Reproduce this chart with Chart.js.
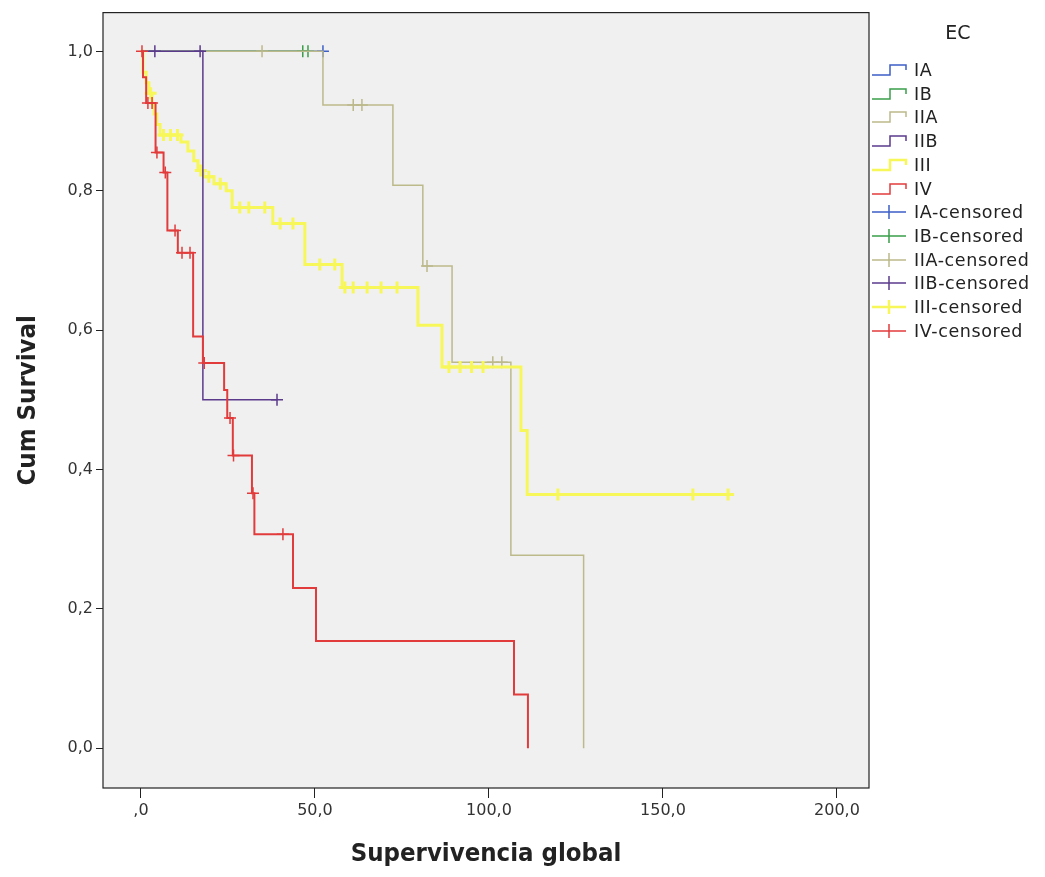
<!DOCTYPE html>
<html>
<head>
<meta charset="utf-8">
<script src="https://cdn.jsdelivr.net/npm/chart.js@4.4.0/dist/chart.umd.min.js"></script>
<style>
  body { margin: 0; background: #fff; }
  #wrap { position: relative; width: 1045px; height: 877px; }
  #legend { position: absolute; left: 0; top: 0; font-family: "DejaVu Sans", sans-serif; color: #222; }
  #legend .ttl { position: absolute; left: 928px; top: 21px; width: 60px; text-align: center; font-size: 19px; }
  #legend .item { position: absolute; left: 871px; height: 22px; white-space: nowrap; font-size: 17.5px; letter-spacing: 0.6px; line-height: 22px; }
  #legend canvas { vertical-align: top; margin-right: 3px; }
</style>
</head>
<body>
<div id="wrap">
  <canvas id="km" width="1045" height="877"></canvas>
  <div id="legend"><div class="ttl">EC</div></div>
</div>
<script>
// tick labels (spanish decimal comma)
const xTickValues = [0, 50, 100, 150, 200];
const xTickLabels = [",0", "50,0", "100,0", "150,0", "200,0"];
const yTickValues = [0, 0.2, 0.4, 0.6, 0.8, 1.0];
const yTickLabels = ["0,0", "0,2", "0,4", "0,6", "0,8", "1,0"];

const groups = ["IA", "IB", "IIA", "IIB", "III", "IV"];

// event times and survival after each step, plus censored times
const iaTimes = [0, 52.3];
const iaSurv = [1, 1];
const iaCens = [52.3];

const ibTimes = [0, 48];
const ibSurv = [1, 1];
const ibCens = [46.5, 48];

const iiaTimes = [0, 52.3, 72.4, 81, 89.4, 106.3, 127.2];
const iiaSurv = [1, 0.923, 0.808, 0.692, 0.554, 0.277, 0];
const iiaCens = [34.8, 61, 63.5, 82.2, 101.1, 103.7];

const iibTimes = [0, 17.8, 39.1];
const iibSurv = [1, 0.5, 0.5];
const iibCens = [4.0, 17.0, 39.1];

const iiiTimes = [0, 0.6, 1.5, 2.3, 3.2, 3.8, 4.6, 5.5, 11.5, 13.5, 15.2, 16.4, 18, 21, 24.5, 26.2, 37.9, 47.1, 57.8, 79.6, 86.5, 109.2, 111, 169.3];
const iiiSurv = [1, 0.97, 0.955, 0.94, 0.925, 0.91, 0.895, 0.88, 0.87, 0.857, 0.843, 0.829, 0.82, 0.81, 0.8, 0.776, 0.753, 0.694, 0.661, 0.607, 0.547, 0.456, 0.364, 0.364];
const iiiCens = [2.8, 6.5, 8.5, 10.5, 17.2, 19.5, 22.8, 28.4, 31, 35.6, 40, 43.7, 51.4, 55.7, 58.6, 61, 65, 69, 73.6, 88.5, 91.7, 95, 98.3, 119.8, 158.6, 168.7];

const ivTimes = [0, 0.6, 1.5, 4.2, 6.5, 7.6, 10.6, 15, 17.8, 23.9, 24.8, 26.4, 31.9, 32.6, 43.7, 50.3, 107.2, 111.2];
const ivSurv = [1, 0.963, 0.926, 0.855, 0.826, 0.743, 0.711, 0.591, 0.553, 0.514, 0.474, 0.42, 0.366, 0.307, 0.23, 0.154, 0.077, 0];
const ivCens = [0.3, 2.0, 3.2, 4.6, 7.0, 9.8, 11.8, 14.1, 18.2, 25.6, 26.6, 32.2, 40.8];

const colors = ["#3d5fc8", "#3a9e4a", "#bcb98a", "#5b3a8c", "#f7f75a", "#e23b3b"];
const widths = [1.5, 1.5, 1.5, 1.5, 3, 2];
const drawOrder = [5, 4, 3, 1, 2, 0];

const allTimes = [iaTimes, ibTimes, iiaTimes, iibTimes, iiiTimes, ivTimes];
const allSurv = [iaSurv, ibSurv, iiaSurv, iibSurv, iiiSurv, ivSurv];
const allCens = [iaCens, ibCens, iiaCens, iibCens, iiiCens, ivCens];

function survAt(times, surv, t) {
  let v = surv[0];
  for (let i = 0; i < times.length; i++) {
    if (times[i] <= t) v = surv[i];
  }
  return v;
}

const datasets = [];
groups.forEach(function(g, k) {
  datasets.push({
    label: g,
    data: allTimes[k].map((t, i) => ({ x: t, y: allSurv[k][i] })),
    showLine: true,
    stepped: "before",
    borderColor: colors[k],
    borderWidth: widths[k],
    pointRadius: 0,
    order: drawOrder[k] * 2 + 1
  });
  datasets.push({
    label: g + "-censored",
    data: allCens[k].map(t => ({ x: t, y: survAt(allTimes[k], allSurv[k], t) })),
    showLine: false,
    pointStyle: "cross",
    pointRadius: 6,
    pointBorderWidth: k == 4 ? 3 : 1.5,
    pointBorderColor: colors[k],
    borderColor: colors[k],
    order: drawOrder[k] * 2
  });
});

const plotFrame = {
  id: "plotFrame",
  beforeDraw(chart) {
    const a = chart.chartArea, c = chart.ctx;
    c.save();
    c.fillStyle = "#f0f0f0";
    c.fillRect(a.left, a.top, a.right - a.left, a.bottom - a.top);
    c.restore();
  },
  afterDraw(chart) {
    const a = chart.chartArea, c = chart.ctx;
    c.save();
    c.strokeStyle = "#222";
    c.lineWidth = 1.2;
    c.strokeRect(a.left, a.top, a.right - a.left, a.bottom - a.top);
    c.restore();
  }
};

const tickFont = { size: 16, family: "'DejaVu Sans', sans-serif" };
const titleFont = { size: 25.5, weight: "bold", family: "'DejaVu Sans Condensed', 'DejaVu Sans', sans-serif" };

new Chart(document.getElementById("km").getContext("2d"), {
  type: "scatter",
  data: { datasets: datasets },
  options: {
    responsive: false,
    animation: false,
    layout: { padding: { top: 8, right: 176, left: 0, bottom: 0 } },
    plugins: { legend: { display: false }, tooltip: { enabled: false } },
    scales: {
      x: {
        type: "linear",
        min: -10.9,
        max: 209.2,
        afterBuildTicks: s => { s.ticks = xTickValues.map(v => ({ value: v })); },
        afterFit: s => { s.height = 89; },
        grid: { display: true, drawOnChartArea: false, drawTicks: true, tickLength: 10, color: "#222" },
        border: { display: false },
        ticks: {
          padding: 3, color: "#333", font: tickFont, maxRotation: 0, autoSkip: false,
          callback: v => xTickLabels[xTickValues.indexOf(v)]
        },
        title: { display: true, text: "Supervivencia global", color: "#222", font: titleFont, padding: { top: 0, bottom: 7 } }
      },
      y: {
        type: "linear",
        min: -0.057,
        max: 1.0556,
        afterBuildTicks: s => { s.ticks = yTickValues.map(v => ({ value: v })); },
        afterFit: s => { s.width = 103; },
        grid: { display: true, drawOnChartArea: false, drawTicks: true, tickLength: 7, color: "#222" },
        border: { display: false },
        ticks: {
          padding: 3, color: "#333", font: tickFont, autoSkip: false,
          callback: v => yTickLabels[yTickValues.findIndex(t => Math.abs(t - v) < 1e-6)]
        },
        title: { display: true, text: "Cum Survival", color: "#222", font: titleFont, padding: { top: 13, bottom: 0 } }
      }
    }
  },
  plugins: [plotFrame]
});

// legend: step icons for groups, crosses for censored
const legend = document.getElementById("legend");
const legendNames = groups.concat(groups.map(g => g + "-censored"));
legendNames.forEach(function(name, i) {
  const k = i % 6;
  const item = document.createElement("div");
  item.className = "item";
  item.style.top = (59 + i * 23.7) + "px";
  const ic = document.createElement("canvas");
  ic.width = 40; ic.height = 22;
  const c = ic.getContext("2d");
  c.strokeStyle = colors[k];
  c.lineWidth = k == 4 ? 2.5 : 1.5;
  c.beginPath();
  if (i < 6) {
    c.moveTo(1, 16); c.lineTo(19, 16); c.lineTo(19, 6); c.lineTo(35, 6); c.lineTo(35, 11);
  } else {
    c.moveTo(1, 11); c.lineTo(35, 11); c.moveTo(18, 4); c.lineTo(18, 18);
  }
  c.stroke();
  item.appendChild(ic);
  item.appendChild(document.createTextNode(name));
  legend.appendChild(item);
});
</script>
</body>
</html>
